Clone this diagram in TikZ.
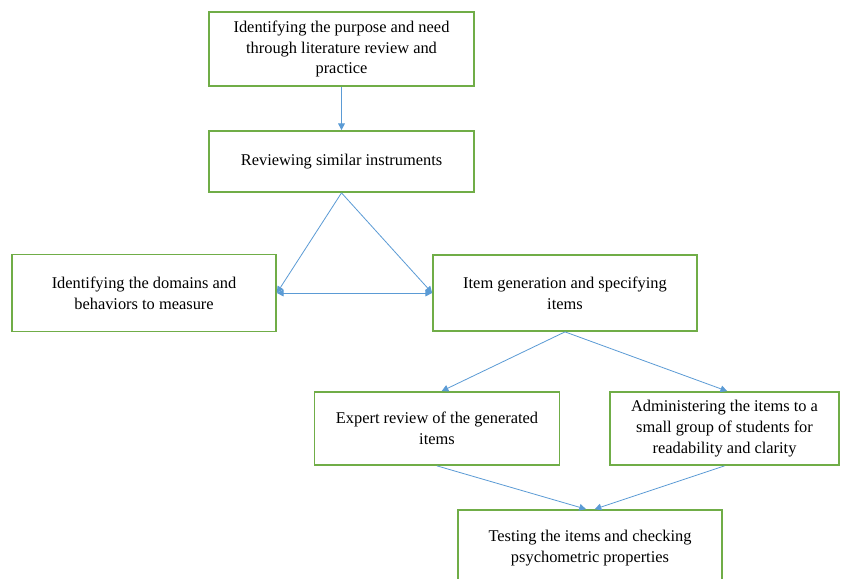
\documentclass[tikz,border=0pt]{standalone}
\usepackage{fontspec}
\setmainfont{Liberation Serif}
\usetikzlibrary{arrows.meta}
\definecolor{boxgreen}{HTML}{70AD47}
\definecolor{arrblue}{HTML}{5B9BD5}
\begin{document}
\begin{tikzpicture}[x=0.75pt,y=-0.75pt,
  box/.style={draw=boxgreen, line width=1.3pt, fill=white, align=center, inner sep=0pt,
    font=\fontsize{12.3}{15.6}\selectfont},
  arr/.style={draw=arrblue, line width=0.6pt, -{Triangle[width=5pt,length=5pt]}},
  darr/.style={draw=arrblue, line width=0.6pt, {Triangle[width=5pt,length=5pt]}-{Triangle[width=5pt,length=5pt]}}]
\useasboundingbox (0,0) rectangle (841,578);
\clip (0,0) rectangle (841,578);
\fill[white] (0,0) rectangle (841,578);
\node[box, minimum width=198.75pt, minimum height=55.5pt] (b1) at (341.5,49)
  {Identifying the purpose and need\\through literature review and\\practice};
\node[box, minimum width=198.75pt, minimum height=45.75pt] (b2) at (341.5,161.5)
  {Reviewing similar instruments};
\node[box, minimum width=198pt, minimum height=57.75pt] (b3) at (144,293)
  {Identifying the domains and\\behaviors to measure};
\node[box, minimum width=198pt, minimum height=57pt] (b4) at (565,293)
  {Item generation and specifying\\items};
\node[box, minimum width=183.75pt, minimum height=54.75pt] (b5) at (437,428.5)
  {Expert review of the generated\\items};
\node[box, minimum width=171.75pt, minimum height=54.75pt] (b6) at (724.5,428.5)
  {Administering the items to a\\small group of students for\\readability and clarity};
\node[box, minimum width=198pt, minimum height=57pt] (b7) at (590,548)
  {Testing the items and checking\\psychometric properties};
\draw[arr] (b1.south) -- (b2.north);
\draw[arr] (b2.south) -- (b3.east);
\draw[arr] (b2.south) -- (b4.west);
\draw[darr] (b3.east) -- (b4.west);
\draw[arr] (b4.south) -- ([xshift=3.5pt]b5.north);
\draw[arr] (b4.south) -- ([xshift=2pt]b6.north);
\draw[arr] (b5.south) -- ([xshift=-3pt]b7.north);
\draw[arr] (b6.south) -- ([xshift=3.5pt]b7.north);
\end{tikzpicture}
\end{document}
